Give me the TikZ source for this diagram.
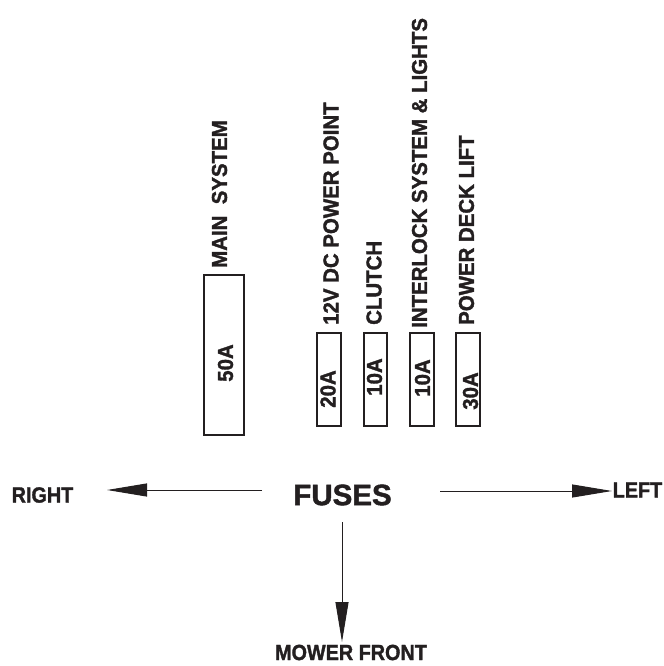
\documentclass[tikz,border=0pt]{standalone}
\usepackage{fontspec}
\setmainfont{Liberation Sans}
\newfontfamily\labelface{Liberation Sans}[FakeStretch=0.95,FakeBold=1.5]
\newfontfamily\dirface{Liberation Sans}[FakeStretch=0.9,FakeBold=1.5]
\newfontfamily\titleface{Liberation Sans}[FakeBold=1.5]
\usetikzlibrary{arrows.meta}
\definecolor{ink}{RGB}{35,31,32}
\newcommand{\labelfont}{\labelface\fontsize{21.5bp}{25bp}\selectfont\bfseries}
\newcommand{\dirfont}{\dirface\fontsize{22bp}{26bp}\selectfont\bfseries}
\newcommand{\titlefont}{\titleface\fontsize{29.5bp}{34bp}\selectfont\bfseries}

\begin{document}
\begin{tikzpicture}[x=1bp, y=-1bp,
    fuse/.style={draw=ink, line width=1.2bp},
    rating/.style={rotate=90, inner sep=0pt, text=ink, font=\labelfont},
    circuit/.style={rotate=90, inner sep=0pt, anchor=west, text=ink, font=\labelfont},
    heading/.style={inner sep=0pt, text=ink},
    pointer/.style={draw=ink, line width=1bp, -{Triangle[length=40bp,width=13bp]}}]
			\useasboundingbox (0,0) rectangle (664,666);
			
			% fuse holders
			\draw[fuse] (204,275) rectangle (244,435);
			\draw[fuse] (317,333) rectangle (341,426);
			\draw[fuse] (364,333) rectangle (387,426);
			\draw[fuse] (410,333) rectangle (434,426);
			\draw[fuse] (456,333) rectangle (480,426);
			
			% ratings
			\node[rating] (mainamps)   at (225.5,363) {50A};
			\node[rating] (pointamps)  at (328,389)   {20A};
			\node[rating] (clutchamps) at (374.5,377) {10A};
			\node[rating] (lockamps)   at (422.5,378) {10A};
			\node[rating] (liftamps)   at (470.5,391) {30A};
			
			% circuits
			\node[circuit] (mainuse)   at (219.5,268) {MAIN\ \ SYSTEM};
			\node[circuit] (pointuse)  at (331,325)   {12V DC POWER POINT};
			\node[circuit] (clutchuse) at (374,325)   {CLUTCH};
			\node[circuit] (lockuse)   at (419.5,328) {INTERLOCK SYSTEM \& LIGHTS};
			\node[circuit] (liftuse)   at (466.5,325) {POWER DECK LIFT};
			
			% directions
			\node[heading, font=\titlefont] (fuses) at (342.5,495) {FUSES};
			\node[heading, font=\dirfont] (right) at (42.5,495) {RIGHT};
			\node[heading, font=\dirfont] (left)  at (637.5,490) {LEFT};
			\node[heading, font=\dirfont] (front) at (351,652.5) {MOWER FRONT};
			
			\coordinate (rightfrom) at (262,490);
			\coordinate (rightto)   at (107,490);
			\coordinate (leftfrom)  at (440,491);
			\coordinate (leftto)    at (612,491);
			\coordinate (frontfrom) at (342,522);
			\coordinate (frontto)   at (342,642);
			
			\draw[pointer] (rightfrom) -- (rightto);
			\draw[pointer] (leftfrom) -- (leftto);
			\draw[pointer] (frontfrom) -- (frontto);
		\end{tikzpicture}
\end{document}
